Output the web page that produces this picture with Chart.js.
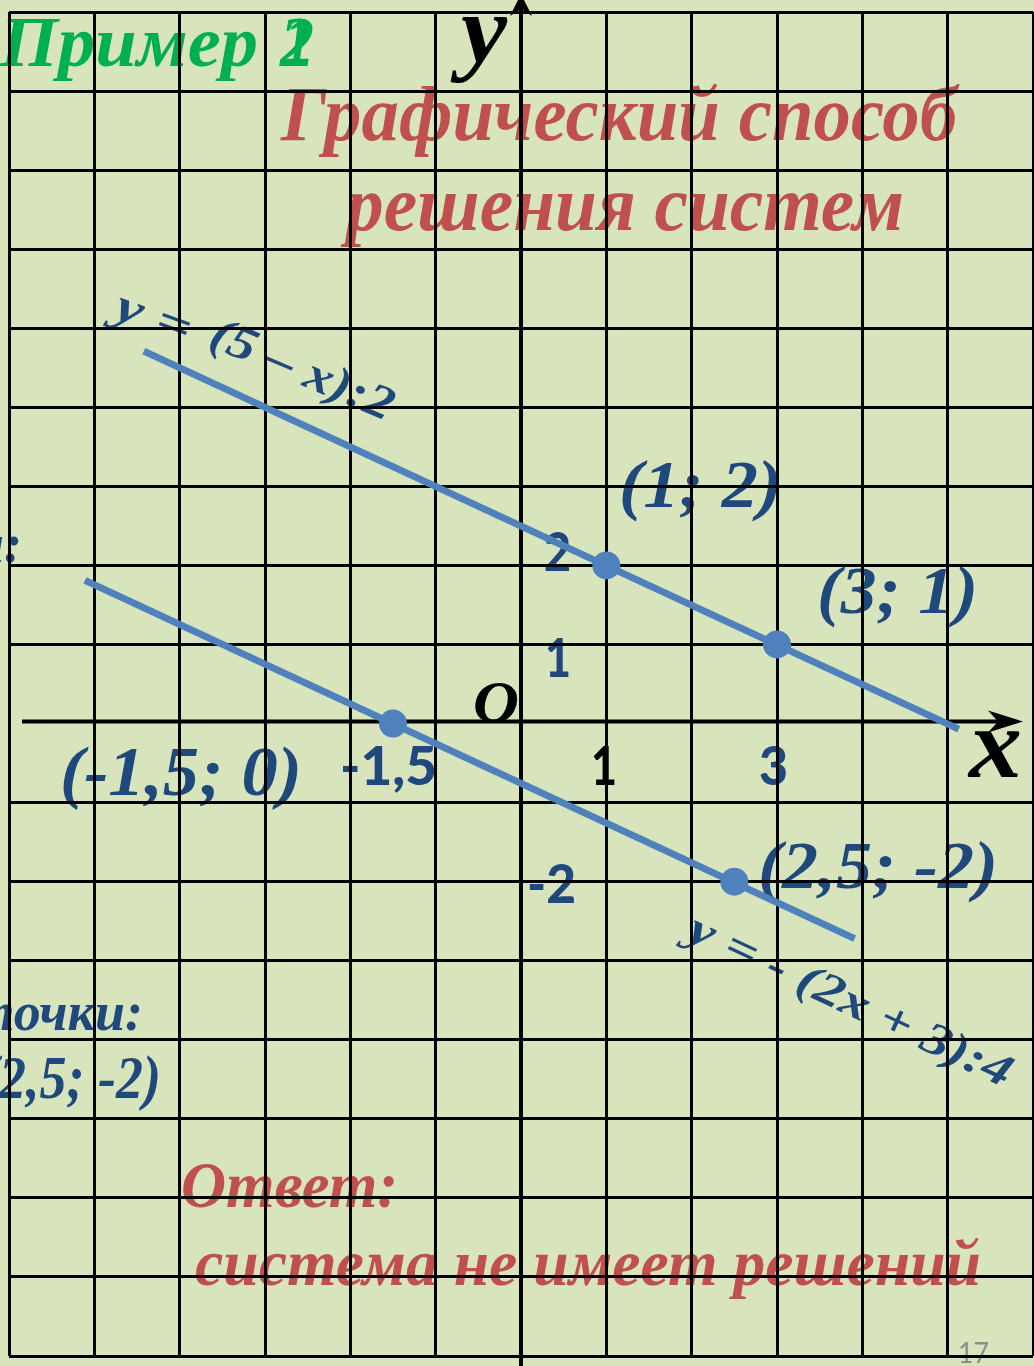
<!DOCTYPE html>
<html><head><meta charset="utf-8">
<script src="https://cdn.jsdelivr.net/npm/chart.js@4/dist/chart.umd.min.js"></script>
<style>html,body{margin:0;padding:0;background:#D8E4BC;overflow:hidden}canvas{display:block}</style>
</head><body>
<canvas id="c" width="1034" height="1366"></canvas>
<script>
// ---- data ----
const xRange = [-6, 6];
const yRange = [-8, 9];
const line1Points = [{x: -4.42, y: 4.71}, {x: 5.13, y: -0.07}];   // y = (5 - x):2
const line2Points = [{x: -5.11, y: 1.81}, {x: 3.91, y: -2.72}];   // y = -(2x + 3):4
const markedX = [1, 3, -1.5, 2.5];
const markedY = [2, 1, 0, -2];

// ---- styles ----
const SERIF = '"Liberation Serif","DejaVu Serif",serif';
const SANS = 'Lato,"Open Sans",sans-serif';
const RED = '#C0504D', GREEN = '#00B050', DBLUE = '#1F497D', LBLUE = '#4F81BD', BLACK = '#000000';
const BG = '#D8E4BC';

const texts = [
  {text: 'Пример', x: 0, y: 66, width: 258, size: 72, family: SERIF, style: 'italic bold', color: GREEN},
  {text: '2', x: 280, y: 66, width: 34, size: 72, family: SERIF, style: 'italic bold', color: GREEN},
  {text: '1', x: 285, y: 66, width: 26, size: 72, family: SERIF, style: 'italic bold', color: GREEN},
  {text: 'y', x: 461, y: 62, width: 46, size: 98, family: SERIF, style: 'italic bold', color: BLACK},
  {text: 'Графический способ', x: 281, y: 140, width: 676, size: 78, family: SERIF, style: 'italic bold', color: RED},
  {text: 'решения систем', x: 346, y: 230, width: 558, size: 78, family: SERIF, style: 'italic bold', color: RED},
  {text: 'y =', x: 112, y: 318, width: 78, size: 48, angle: 20, family: SERIF, style: 'italic bold', color: DBLUE},
  {text: '(5 – x):2', x: 207, y: 345, width: 195, size: 48, angle: 23, family: SERIF, style: 'italic bold', color: DBLUE},
  {text: '(1; 2)', x: 619, y: 507, width: 163, size: 68, family: SERIF, style: 'italic bold', color: DBLUE},
  {text: '(3; 1)', x: 817, y: 613, width: 161, size: 68, family: SERIF, style: 'italic bold', color: DBLUE},
  {text: 'и:', right: 22, y: 562, size: 54, family: SERIF, style: 'italic bold', color: DBLUE},
  {text: '2', x: 544, y: 571, width: 27, size: 54, family: SANS, style: '900', color: DBLUE},
  {text: '1', x: 545, y: 677, width: 26, size: 54, family: SANS, style: '900', color: DBLUE},
  {text: 'O', x: 473, y: 722, width: 46, size: 60, family: SERIF, style: 'italic bold', color: BLACK},
  {text: 'x', x: 969, y: 777, width: 53, size: 100, family: SERIF, style: 'italic bold', color: BLACK},
  {text: '(-1,5; 0)', x: 60, y: 795, width: 242, size: 70, family: SERIF, style: 'italic bold', color: DBLUE},
  {text: '-1,5', x: 340, y: 785, width: 97, size: 54, family: SANS, style: '900', color: DBLUE},
  {text: '1', x: 591, y: 785, width: 26, size: 54, family: SANS, style: '900', color: BLACK},
  {text: '3', x: 759, y: 785, width: 29, size: 54, family: SANS, style: '900', color: DBLUE},
  {text: '(2,5; -2)', x: 758, y: 888, width: 240, size: 68, family: SERIF, style: 'italic bold', color: DBLUE},
  {text: '-2', x: 527, y: 903, width: 49, size: 54, family: SANS, style: '900', color: DBLUE},
  {text: 'y = - (2x + 3):4', x: 685, y: 939, width: 352, size: 46, angle: 25, family: SERIF, style: 'italic bold', color: DBLUE},
  {text: 'точки:', right: 143, y: 1030, size: 54, family: SERIF, style: 'italic bold', color: DBLUE},
  {text: '(2,5; -2)', right: 161, y: 1098, width: 180, size: 62, family: SERIF, style: 'italic bold', color: DBLUE},
  {text: 'Ответ:', x: 181, y: 1207, width: 217, size: 66, family: SERIF, style: 'italic bold', color: RED},
  {text: 'система не имеет решений', x: 195, y: 1285, width: 786, size: 66, family: SERIF, style: 'italic bold', color: RED},
  {text: '17', x: 958, y: 1363, width: 31, size: 28, family: SANS, style: '', color: '#8C8C8C'}
];

function drawText(ctx, t) {
  ctx.save();
  ctx.font = `${t.style || ''} ${t.size}px ${t.family}`;
  ctx.fillStyle = t.color;
  ctx.textBaseline = 'alphabetic';
  ctx.textAlign = 'left';
  const w = ctx.measureText(t.text).width;
  const tw = t.width || w;
  const sx = tw / w;
  const x = (t.right !== undefined) ? t.right - tw : t.x;
  ctx.translate(x, t.y);
  if (t.angle) ctx.rotate(t.angle * Math.PI / 180);
  ctx.scale(sx, 1);
  ctx.fillText(t.text, 0, 0);
  ctx.restore();
}

const backgroundAndText = {
  id: 'bgText',
  beforeDraw(chart) {
    const ctx = chart.ctx;
    ctx.save();
    ctx.fillStyle = BG;
    ctx.fillRect(0, 0, chart.width, chart.height);
    ctx.restore();
    texts.forEach(t => drawText(ctx, t));
  }
};

const axesPlugin = {
  id: 'axesArrows',
  beforeDatasetsDraw(chart) {
    const ctx = chart.ctx;
    const xs = chart.scales.x, ys = chart.scales.y;
    const x0 = xs.getPixelForValue(0);
    const y0 = ys.getPixelForValue(0) - 2;
    ctx.save();
    ctx.strokeStyle = BLACK;
    ctx.fillStyle = BLACK;
    ctx.lineWidth = 4;
    // y axis
    ctx.beginPath();
    ctx.moveTo(x0, chart.height);
    ctx.lineTo(x0, 6);
    ctx.stroke();
    ctx.beginPath();
    ctx.moveTo(x0, -6);
    ctx.lineTo(x0 - 11, 16);
    ctx.lineTo(x0, 9);
    ctx.lineTo(x0 + 11, 16);
    ctx.closePath();
    ctx.fill();
    // x axis
    ctx.beginPath();
    ctx.moveTo(22, y0);
    ctx.lineTo(1005, y0);
    ctx.stroke();
    ctx.beginPath();
    ctx.moveTo(1023, y0);
    ctx.lineTo(988, y0 - 11);
    ctx.lineTo(998, y0);
    ctx.lineTo(988, y0 + 11);
    ctx.closePath();
    ctx.fill();
    ctx.restore();
  }
};

const gridColor = c => (c.tick && c.tick.value === 0) ? 'rgba(0,0,0,0)' : BLACK;

new Chart(document.getElementById('c'), {
  type: 'scatter',
  data: {
    datasets: [
      {data: line1Points, showLine: true, borderColor: LBLUE, borderWidth: 7, pointRadius: 0, borderCapStyle: 'butt', clip: false},
      {data: line2Points, showLine: true, borderColor: LBLUE, borderWidth: 7, pointRadius: 0, borderCapStyle: 'butt', clip: false},
      {data: markedX.map((x, i) => ({x: x, y: markedY[i]})), showLine: false, pointRadius: 14, pointBackgroundColor: LBLUE, pointBorderWidth: 0, clip: false}
    ]
  },
  options: {
    responsive: false,
    animation: false,
    devicePixelRatio: 1,
    events: [],
    layout: {autoPadding: false, padding: {left: 9, top: 12, right: 1, bottom: 10}},
    plugins: {legend: {display: false}, tooltip: {enabled: false}, title: {display: false}},
    scales: {
      x: {type: 'linear', min: xRange[0], max: xRange[1],
          ticks: {display: false, stepSize: 1, includeBounds: false},
          grid: {color: gridColor, lineWidth: 3, drawTicks: false},
          border: {display: false}},
      y: {type: 'linear', min: yRange[0], max: yRange[1],
          ticks: {display: false, stepSize: 1, includeBounds: false},
          grid: {color: gridColor, lineWidth: 3, drawTicks: false},
          border: {display: false}}
    }
  },
  plugins: [backgroundAndText, axesPlugin]
});
</script>
</body></html>
